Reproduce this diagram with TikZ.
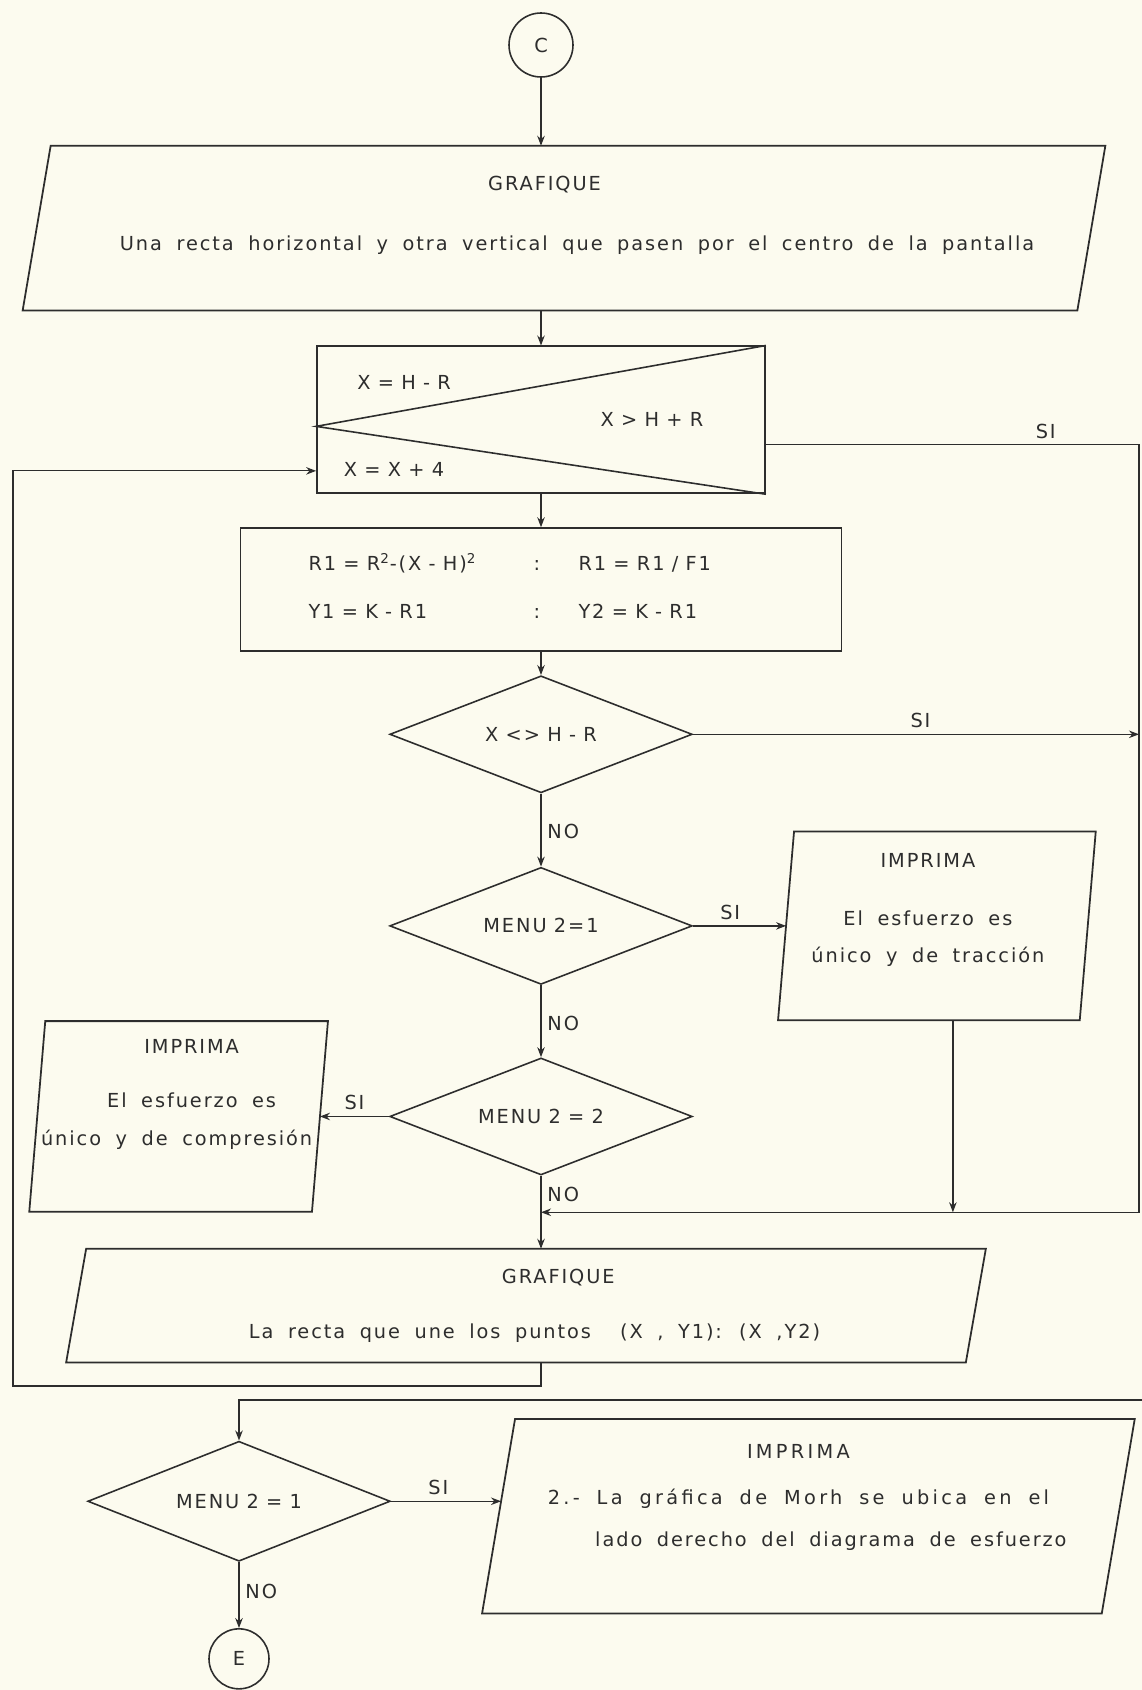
\documentclass[tikz,border=0pt]{standalone}
\usepackage{fontspec}
\setmainfont{DejaVu Sans}[LetterSpace=10, WordSpace=1.8]
\newfontfamily\tightfont{DejaVu Sans}[LetterSpace=10, WordSpace=0.9]
\newfontfamily\widefont{DejaVu Sans}[LetterSpace=17, WordSpace=1.8]
\usepackage{tikz}
\usetikzlibrary{arrows.meta, positioning, shapes.geometric, calc}

\definecolor{paper}{RGB}{252,251,239}
\definecolor{ink}{RGB}{45,45,45}

% slanted input/output box drawn round a named node
\newcommand{\ioshape}[2]{%
  \draw[draw=ink, line width=1pt] ([xshift=#2]#1.north west) -- (#1.north east)
    -- ([xshift=-#2]#1.south east) -- (#1.south west) -- cycle;}

\begin{document}
\begin{tikzpicture}[
  font=\fontsize{11}{13}\selectfont,
  every node/.style={text=ink},
  box/.style={draw=ink, line width=1pt, align=center},
  iobox/.style={rectangle, inner sep=0pt},
  txt/.style={align=center},
  tight/.style={font=\tightfont\fontsize{11}{13}\selectfont},
  decision/.style={tight, draw=ink, line width=0.9pt, diamond, aspect=2.6, inner sep=0pt, minimum width=6.05cm, minimum height=2.34cm},
  connector/.style={draw=ink, line width=0.9pt, circle, inner sep=0pt, minimum size=1.28cm},
  arrow/.style={draw=ink, line width=0.7pt, -{Stealth[length=2mm, width=1.5mm]}},
  line/.style={draw=ink, line width=0.7pt}
]

\fill[paper] (0,0) rectangle (22.84,-33.8);
\useasboundingbox (0,0) rectangle (22.84,-33.8);

% Nodes
\node[connector] (c) at (10.82,-0.9) {C};
\node[iobox, minimum width=21.64cm, minimum height=3.28cm] (graf1) [below=1.36cm of c, xshift=0.46cm] {};
\ioshape{graf1}{0.56cm}
\node[txt] (graf1txt) at ([xshift=0.26cm, yshift=0.26cm]graf1.center) {GRAFIQUE\hspace*{1.3cm}\\[0.75cm] Una recta horizontal y otra vertical que pasen por el centro de la pantalla};

\node[box, minimum width=8.96cm, minimum height=2.94cm] (loopbox) [below=0.70cm of graf1, xshift=-0.46cm] {};
\coordinate (tip) at ([yshift=-0.13cm]loopbox.west);
\draw[line, line width=0.9pt] (loopbox.north east) -- (tip) -- (loopbox.south east);
\node[tight] (xini) at ([xshift=-2.74cm, yshift=0.75cm]loopbox.center) {X = H - R};
\node[tight] (xfin) at ([xshift=2.22cm]loopbox.center) {X > H + R};
\node[tight] (xinc) at ([xshift=-2.94cm, yshift=-0.99cm]loopbox.center) {X = X + 4};

\node[box, tight, minimum width=12.02cm, minimum height=2.46cm] (calc) [below=0.66cm of loopbox] {\begin{tabular}{@{}p{4.5cm}@{}p{0.9cm}@{}p{3.9cm}@{}}
  R1 = R\textsuperscript{2}-(X - H)\textsuperscript{2} & : & R1 = R1 / F1\\[0.5cm]
  Y1 = K - R1 & : & Y2 = K - R1
\end{tabular}};

\node[decision] (dec1) [below=0.46cm of calc] {X <> H - R};
\node[decision] (dec2) [below=1.46cm of dec1] {MENU 2=1};
\node[decision] (dec3) [below=1.44cm of dec2] {MENU 2 = 2};

\node[iobox, minimum width=6.34cm, minimum height=3.76cm] (imp1) [right=1.7cm of dec2] {};
\ioshape{imp1}{0.32cm}
\node[txt] (imp1txt) at ([xshift=-0.18cm, yshift=0.32cm]imp1.center) {IMPRIMA\\[0.7cm] El esfuerzo es\\[0.28cm] único y de tracción};
\node[iobox, minimum width=5.96cm, minimum height=3.8cm] (imp2) [left=1.22cm of dec3] {};
\ioshape{imp2}{0.32cm}
\node[txt] (imp2txt) at ([xshift=0.26cm, yshift=0.44cm]imp2.center) {IMPRIMA\\[0.62cm] El esfuerzo es\\[0.3cm] único y de compresión\hspace*{0.6cm}};

\node[iobox, minimum width=18.38cm, minimum height=2.26cm] (graf2) [below=1.46cm of dec3, xshift=-0.3cm] {};
\ioshape{graf2}{0.4cm}
\node[txt] (graf2txt) at ([xshift=0.17cm]graf2.center) {\hspace*{0.95cm}GRAFIQUE\\[0.64cm] La recta que une los puntos \ (X , Y1): (X ,Y2)};

\node[decision, minimum height=2.4cm] (dec4) [below=1.56cm of graf2, xshift=-5.74cm] {MENU 2 = 1};
\node[connector, minimum size=1.2cm] (e) [below=1.32cm of dec4] {E};
\node[iobox, minimum width=13.04cm, minimum height=3.88cm] (imp3) [right=1.82cm of dec4, yshift=-0.3cm] {};
\ioshape{imp3}{0.66cm}
\node[txt, font=\widefont\fontsize{11}{13}\selectfont] (imp3txt) at ([xshift=-0.2cm, yshift=0.38cm]imp3.center) {IMPRIMA\\[0.46cm] 2.- La gráfica de Morh se ubica en el\\[0.38cm] \hspace*{1.3cm}{\rmfamily lado derecho del diagrama de esfuerzo}};

% Rails and joints
\coordinate (rail) at (22.78,0);
\coordinate (merge) at ($(dec3.south)!0.5!(graf2.north -| dec3.south)$);
\coordinate (back) at (0.26,-27.72);
\coordinate (feed) at (22.84,-28.0);

% Arrows
\draw[arrow] (c) -- (c |- graf1.north);
\draw[arrow] (graf1.south -| loopbox.north) -- (loopbox.north);
\draw[arrow] (loopbox) -- (calc);
\draw[arrow] (calc) -- (dec1);
\draw[arrow] (dec1) -- node[right, pos=0.52] {NO} (dec2);
\draw[arrow] (dec2) -- node[right, pos=0.53] {NO} (dec3);
\draw[line] (dec3.south) -- node[right, pos=0.5] {NO} (merge);
\draw[arrow] (merge) -- (merge |- graf2.north);

\draw[arrow] (dec2) -- node[above, pos=0.4] {SI} ([xshift=0.16cm]imp1.west);
\draw[arrow] (dec3) -- node[above, pos=0.5] {SI} ([xshift=-0.16cm]imp2.east);
\draw[arrow] ([xshift=0.32cm]imp1.south) -- ([xshift=0.32cm]imp1.south |- merge);
\draw[arrow] (dec1) -- node[above, pos=0.51] {SI} (dec1 -| rail);
\draw[arrow] ([yshift=-0.5cm]loopbox.east) -- node[above, pos=0.75] {SI} ([yshift=-0.5cm]loopbox.east -| rail) -- (rail |- merge) -- (merge);

\draw[arrow] (graf2.south -| merge) |- (back) |- ([yshift=-1.02cm]loopbox.west);

\draw[arrow] (feed) -| (dec4.north);
\draw[arrow] (dec4) -- node[above, pos=0.43] {SI} ($(dec4.east -| imp3.west)+(0.38,0)$);
\draw[arrow] (dec4) -- node[right, pos=0.45] {NO} (e);

\end{tikzpicture}
\end{document}
